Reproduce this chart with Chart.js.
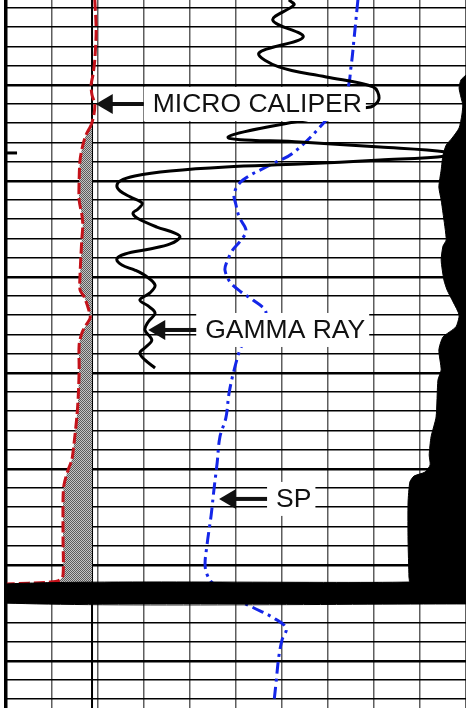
<!DOCTYPE html>
<html>
<head>
<meta charset="utf-8">
<script src="https://cdn.jsdelivr.net/npm/chart.js@4/dist/chart.umd.min.js"></script>
<style>
  html, body { margin: 0; padding: 0; background: #fff; }
  canvas { display: block; }
</style>
</head>
<body>
<canvas id="log" width="466" height="708"></canvas>
<script>
// track scale 0-100, depth in tenths of a chart division
const xTicks = [0, 10, 20, 30, 40, 50, 60, 70, 80, 90, 100];
const yTicks = [0, 10, 20, 30, 40, 50, 60, 70, 80, 90, 100, 110, 120, 130, 140, 150, 160, 170, 180,
  190, 200, 210, 220, 230, 240, 250, 260, 270, 280, 290, 300, 310, 320, 330, 340, 350, 360];

// micro caliper (red dashed)
const calDepth = [-4.2, 11.5, 27.1, 34.9, 40.1, 45.3, 50, 55.7, 60.9, 66.1, 71.4, 79.2, 89.6, 100, 107.8,
  113, 119.8, 128.6, 139, 146.9, 150.5, 157.3, 161.5, 165.1, 169.3, 175.5, 188.5, 202.6, 213, 226.6,
  235.4, 240.6, 248.4, 256.3, 277.1, 295.3, 297.9, 299, 300];
const calValue = [19.3, 19.6, 19.3, 18.9, 18.5, 18.7, 19.3, 19.1, 18.5, 17.4, 16.7, 16.1, 15.9, 15.9, 16.5,
  16.7, 16.5, 16.3, 16.1, 16.1, 17.0, 18.0, 18.3, 17.4, 16.5, 15.9, 15.9, 15.7, 15.4, 14.8,
  14.3, 13.5, 12.6, 12.4, 12.4, 12.4, 11.7, 9.6, 0.2];

// bit size reference
const bitDepth = [-4.2, 364.6];
const bitValue = [18.7, 18.7];

// gamma ray (black)
const grDepth = [-4.2, -1.6, 6.3, 15.1, 23.4, 30.7, 35.9, 41.1, 46.9, 51.0, 52.1, 56.8, 67.2, 69.8, 72.4,
  75.0, 77.1, 79.2, 81.3, 82.8, 84.9, 87.5, 90.1, 92.7, 95.3, 98.4, 101.6, 104.7, 106.8, 109.4, 114.1,
  117.2, 119.3, 122.9, 125.5, 128.1, 130.7, 133.9, 136.5, 139.6, 144.3, 148.4, 152.1, 155.2, 158.9,
  163.5, 167.7, 172.9, 176.6, 179.7, 183.3, 187.5];
const grValue = [61.5, 62.6, 58.0, 64.6, 55.0, 59.3, 69.6, 79.8, 81.1, 79.8, 77.8, 68.3, 48.3, 63.9, 81.3,
  95.7, 95.7, 81.3, 63.9, 47.8, 35.7, 28.0, 24.8, 24.1, 24.8, 27.0, 29.6, 28.7, 27.6, 28.5, 32.8,
  36.7, 37.8, 35.7, 31.3, 25.9, 24.1, 25.2, 28.0, 30.4, 32.4, 31.3, 29.1, 30.9, 32.4,
  30.9, 30.2, 31.7, 30.4, 29.1, 30.2, 32.4];

// spontaneous potential (blue dash-dot)
const spDepth = [-4.2, 15.1, 30.7, 42.7, 58.3, 75.5, 81.8, 89.6, 96.4, 102.6, 108.9, 116.1, 121.4, 126.0,
  132.3, 136.5, 142.7, 147.9, 152.1, 158.3, 165.1, 171.4, 176.6, 188.5, 200.5, 213.5, 223.4, 237.0,
  251.0, 264.1, 279.7, 291.1, 297.9, 301.0, 306.8, 312.5, 317.2, 322.9, 329.2, 338.0, 351.6, 360.4];
const spValue = [76.5, 75.7, 75.0, 74.1, 69.6, 62.4, 57.4, 51.5, 49.6, 50.0, 50.7, 52.2, 50.9, 49.3,
  48.0, 47.6, 48.7, 51.1, 53.7, 56.5, 54.8, 52.6, 51.1, 49.6, 48.5, 47.8, 46.5, 45.9,
  45.2, 44.6, 43.7, 43.3, 44.3, 45.7, 49.1, 53.9, 57.8, 60.9, 60.0, 59.3, 58.7, 58.3];

// resistivity (black fill to the right)
const resDepth = [34.9, 37.5, 41.7, 46.4, 50.5, 55.7, 62.5, 67.7, 71.4, 76.6, 84.4, 93.2, 100, 106.8,
  120.8, 124.0, 131.3, 141.7, 146.9, 153.1, 159.9, 166.1, 171.4, 178.1, 188.5, 193.8, 213.0, 223.4,
  232.8, 238.0, 241.7, 243.8, 246.9, 257.8, 277.1, 296.4, 299.0, 300, 309.9, 310.4];
const resValue = [100, 98.9, 98.5, 98.9, 99.3, 99.1, 98.5, 97.0, 95.7, 95.0, 94.6, 94.1, 94.6, 95.0,
  95.7, 95.0, 94.6, 95.2, 95.9, 97.2, 98.5, 97.8, 95.0, 94.1, 94.6, 93.9, 93.5, 92.4,
  92.0, 92.2, 91.1, 88.7, 87.8, 87.4, 87.4, 87.6, 87.6, 0.2, 0.2, 100];

// depth marker at left edge
const markDepth = [75.5, 75.5];
const markValue = [0.2, 2.4];

// curve labels
const labelText = ['MICRO CALIPER', 'GAMMA RAY', 'SP'];
const labelValue = [19.3, 30.7, 46.1];
const labelDepth = [50, 167.7, 255.7];

function pts(vals, depths) {
  return vals.map((v, i) => ({ x: v, y: depths[i] }));
}

// dithered grey like the printed log
const pc = document.createElement('canvas');
pc.width = 2; pc.height = 2;
const pctx = pc.getContext('2d');
pctx.fillStyle = '#c4c4c4'; pctx.fillRect(0, 0, 2, 2);
pctx.fillStyle = '#5c5c5c'; pctx.fillRect(0, 0, 1, 1); pctx.fillRect(1, 1, 1, 1);
const grey = pctx.createPattern(pc, 'repeat');

const labels = {
  id: 'labels',
  afterDatasetsDraw(chart) {
    const ctx = chart.ctx;
    const sx = chart.scales.x, sy = chart.scales.y;
    ctx.save();
    ctx.font = '26.5px "Liberation Sans", Arial, sans-serif';
    ctx.textBaseline = 'middle';
    labelText.forEach((t, i) => {
      const x = sx.getPixelForValue(labelValue[i]);
      const y = sy.getPixelForValue(labelDepth[i]);
      const tx = x + 58;
      const w = ctx.measureText(t).width;
      ctx.fillStyle = '#fff';
      ctx.fillRect(tx - 9, y - 17, w + 13, 34);
      ctx.fillStyle = '#111';
      ctx.fillText(t, tx, y + 1);
      // arrow
      ctx.fillRect(x + 14, y - 2, tx - x - 14 - 9, 4);
      ctx.beginPath();
      ctx.moveTo(x + 1, y);
      ctx.lineTo(x + 18, y - 10);
      ctx.lineTo(x + 18, y + 10);
      ctx.closePath();
      ctx.fill();
    });
    ctx.restore();
  }
};

new Chart(document.getElementById('log'), {
  type: 'line',
  data: {
    datasets: [
      {
        label: 'Resistivity',
        data: pts(resValue, resDepth),
        borderColor: '#000',
        backgroundColor: '#000',
        borderWidth: 1,
        fill: 'end',
        tension: 0.2,
        order: 0
      },
      {
        label: 'Gamma Ray',
        data: pts(grValue, grDepth),
        borderColor: '#000',
        borderWidth: 3,
        tension: 0.35,
        order: 1
      },
      {
        label: 'Micro Caliper',
        data: pts(calValue, calDepth),
        borderColor: '#c4121a',
        borderWidth: 3,
        borderDash: [11, 4],
        tension: 0.3,
        backgroundColor: grey,
        fill: 4,
        segment: {
          backgroundColor: c => (c.p0.parsed.x < 18.7 && c.p1.parsed.x < 18.7) ? grey : 'rgba(0,0,0,0)'
        },
        order: 2
      },
      {
        label: 'SP',
        data: pts(spValue, spDepth),
        borderColor: '#1426e8',
        borderWidth: 3,
        borderDash: [12, 5, 3, 5],
        tension: 0.35,
        order: 3
      },
      {
        label: 'Bit size',
        data: pts(bitValue, bitDepth),
        borderColor: '#000',
        borderWidth: 2,
        order: 4
      },
      {
        label: 'Marker',
        data: pts(markValue, markDepth),
        borderColor: '#000',
        borderWidth: 3,
        order: 5
      }
    ]
  },
  options: {
    indexAxis: 'y',
    responsive: false,
    animation: false,
    devicePixelRatio: 1,
    layout: { padding: { left: 6, right: 0, top: 0, bottom: 0 } },
    elements: { point: { radius: 0 } },
    plugins: { legend: { display: false }, tooltip: { enabled: false } },
    scales: {
      x: {
        type: 'linear',
        min: 0,
        max: 100,
        afterBuildTicks: s => { s.ticks = xTicks.map(v => ({ value: v })); },
        ticks: { display: false },
        border: { display: false },
        grid: {
          drawTicks: false,
          color: c => c.tick.value === 0 ? '#000' : '#5e5e5e',
          lineWidth: c => c.tick.value === 0 ? 3.5 : 1.5
        }
      },
      y: {
        type: 'linear',
        reverse: true,
        min: -4.17,
        max: 364.6,
        afterBuildTicks: s => { s.ticks = yTicks.map(v => ({ value: v })); },
        ticks: { display: false },
        border: { display: false },
        grid: {
          drawTicks: false,
          color: '#000',
          lineWidth: c => (c.tick.value + 10) % 50 === 0 ? 2.5 : 1.5
        }
      }
    }
  },
  plugins: [labels]
});
</script>
</body>
</html>
